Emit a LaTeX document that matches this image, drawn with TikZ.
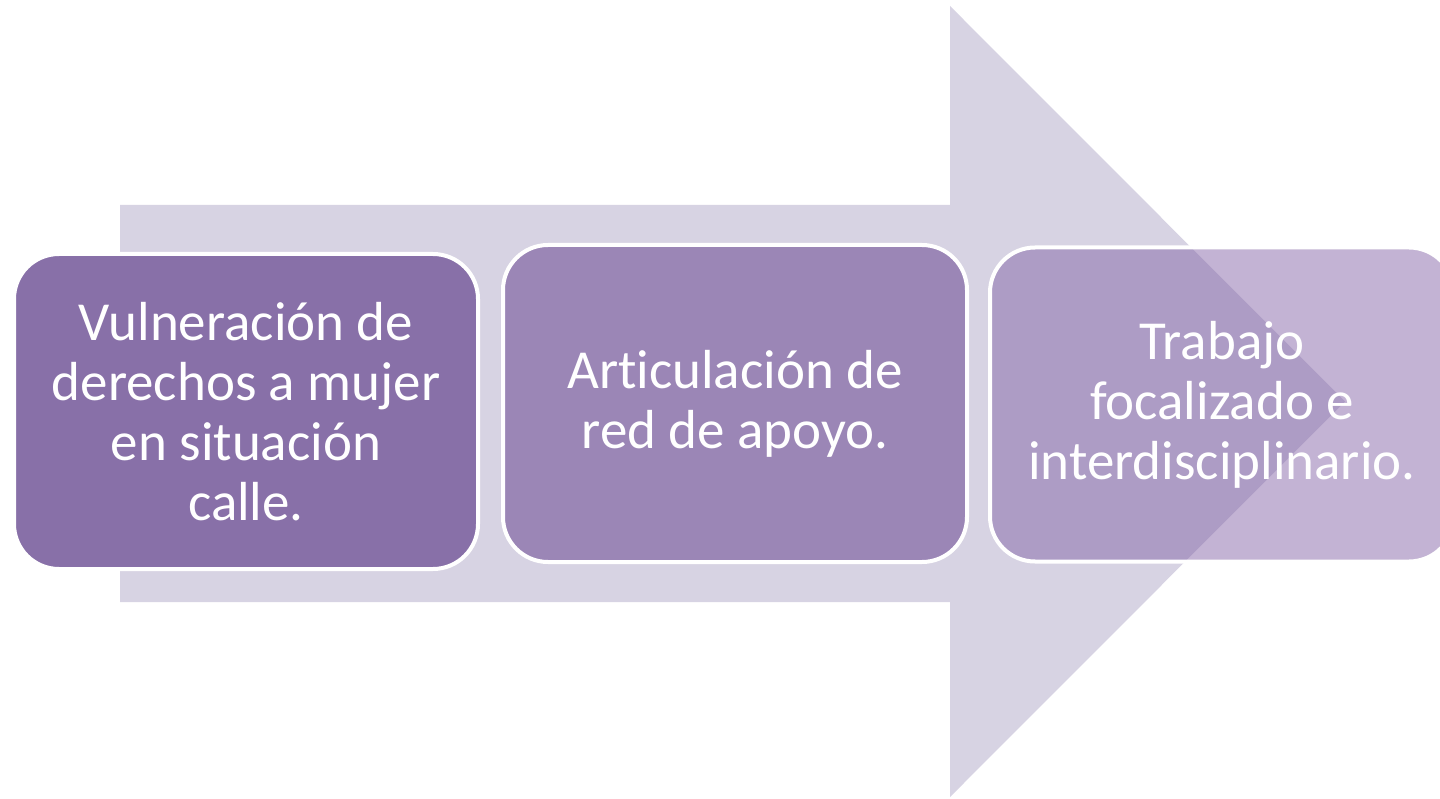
\documentclass[tikz,border=0pt]{standalone}
\usepackage{fontspec}
\setmainfont{Carlito}[Ligatures={NoCommon}]
\definecolor{arrowc}{HTML}{D7D3E3}
\definecolor{boxa}{HTML}{8870A8}
\definecolor{boxb}{HTML}{9B86B6}
\definecolor{boxc}{HTML}{8161A5}
\tikzset{
  stepbox/.style={rectangle, rounded corners=45pt, draw=white, line width=4pt,
    minimum width=464pt, text=white, align=center, inner sep=0pt,
    font=\fontsize{55}{60}\selectfont}
}
\begin{document}
\begin{tikzpicture}[x=1pt,y=-1pt]
\useasboundingbox (0,0) rectangle (1440,799);
\clip (0,0) rectangle (1440,799);
\fill[arrowc] (120,205) -- (950,205) -- (950,6) -- (1345,401.5) -- (950,797) -- (950,602) -- (120,602) -- cycle;
\node[stepbox, fill=boxa, minimum height=315pt] (b1) at (246,411.5)
  {Vulneración de\\derechos a mujer\\en situación\\calle.};
\node[stepbox, fill=boxb, minimum height=317pt] (b2) at (735,403.5)
  {Articulación de\\red de apoyo.};
\node[stepbox, fill=boxc, fill opacity=0.48, text opacity=1, minimum height=314pt] (b3) at (1222,404.5)
  {Trabajo\\focalizado e\\interdisciplinario.};
\end{tikzpicture}
\end{document}
